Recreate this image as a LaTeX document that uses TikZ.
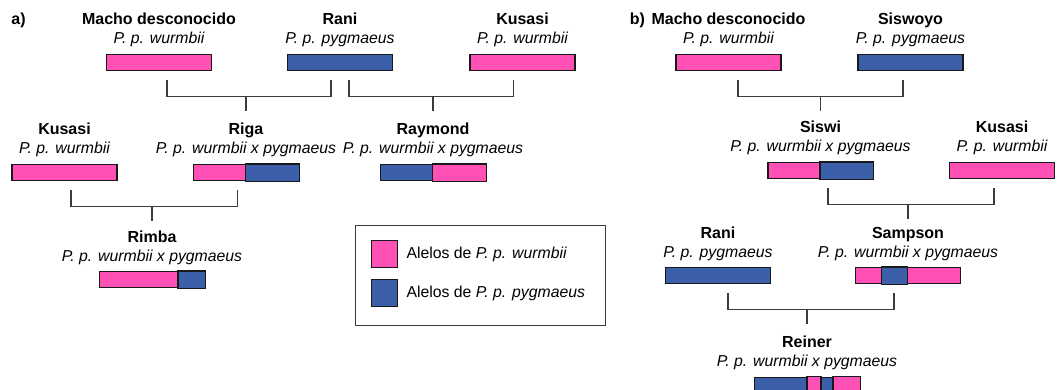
\documentclass[tikz,border=0pt]{standalone}
\usepackage{fontspec}
\setmainfont{Liberation Sans}
\usetikzlibrary{positioning, calc}
\definecolor{WurmPink}{RGB}{255, 80, 181}
\definecolor{PygBlue}{RGB}{60, 95, 170}
\definecolor{LineGray}{RGB}{60, 60, 60}

\begin{document}
\begin{tikzpicture}[
    x=1pt, y=-1pt,
    every node/.style={font=\fontsize{15.8}{18}\selectfont, inner sep=0pt},
    who/.style={font=\fontsize{16}{18}\selectfont\bfseries, anchor=base, text height=11pt},
    taxon/.style={font=\fontsize{15.8}{18}\selectfont\itshape, anchor=base},
    bar/.style={draw=black!90, line width=1.3pt, minimum width=105pt, minimum height=16pt, anchor=north},
    wurm/.style={bar, fill=WurmPink},
    pyg/.style={bar, fill=PygBlue},
    seg/.style={draw=black!90, line width=1.3pt},
    key/.style={draw=black!90, line width=1.3pt, minimum width=26pt, minimum height=27pt, anchor=north west},
    link/.style={draw=LineGray, line width=1.3pt}
]
\useasboundingbox (0,0) rectangle (1062,390);

\node[who] (labelA) at (18.5,25) {a)};
\node[who] (labelB) at (637.5,25) {b)};

\node[who] (machoA) at (159,25) {Macho desconocido};
\node[taxon] (machoA-tx) at (159,44) {P. p. wurmbii};
\node[wurm] (machoA-bar) at (159,54) {};
\node[who] (raniA) at (340,25) {Rani};
\node[taxon] (raniA-tx) at (340,44) {P. p. pygmaeus};
\node[pyg] (raniA-bar) at (340,54) {};
\node[who] (kusasiA) at (522.5,25) {Kusasi};
\node[taxon] (kusasiA-tx) at (522.5,44) {P. p. wurmbii};
\node[wurm] (kusasiA-bar) at (522.5,54) {};

\node[who] (kusasiA2) at (64.5,135) {Kusasi};
\node[taxon] (kusasiA2-tx) at (64.5,154) {P. p. wurmbii};
\node[wurm] (kusasiA2-bar) at (64.5,164) {};
\node[who] (riga) at (246,135) {Riga};
\node[taxon] (riga-tx) at (246,154) {P. p. wurmbii x pygmaeus};
\node[wurm] (riga-bar) at (246,164) {};
\draw[seg, fill=PygBlue] ([xshift=52.5pt]riga-bar.south west) rectangle (riga-bar.north east);
\node[who] (raymond) at (433,135) {Raymond};
\node[taxon] (raymond-tx) at (433,154) {P. p. wurmbii x pygmaeus};
\node[pyg] (raymond-bar) at (433,164) {};
\draw[seg, fill=WurmPink] ([xshift=52.5pt]raymond-bar.south west) rectangle (raymond-bar.north east);

\node[who] (rimba) at (152,242) {Rimba};
\node[taxon] (rimba-tx) at (152,261) {P. p. wurmbii x pygmaeus};
\node[wurm] (rimba-bar) at (152,271) {};
\draw[seg, fill=PygBlue] ([xshift=79pt]rimba-bar.south west) rectangle (rimba-bar.north east);

\draw[link] ([xshift=8pt,yshift=-9pt]machoA-bar.south) -- ++(0,16) coordinate (jA1) -| ([xshift=-9pt,yshift=-9pt]raniA-bar.south);
\draw[link] (riga.north |- jA1) -- ++(0,15);
\draw[link] ([xshift=9pt,yshift=-9pt]raniA-bar.south) -- ++(0,16) coordinate (jA2) -| ([xshift=-9pt,yshift=-9pt]kusasiA-bar.south);
\draw[link] (raymond.north |- jA2) -- ++(0,15);
\draw[link] ([xshift=6.5pt,yshift=-9pt]kusasiA2-bar.south) -- ++(0,16) coordinate (jA3) -| ([xshift=-8.5pt,yshift=-9pt]riga-bar.south);
\draw[link] (rimba.north |- jA3) -- ++(0,15);

\node[draw=LineGray, line width=1.3pt, minimum width=250pt, minimum height=100pt, anchor=north west] (legend) at (355,225) {};
\node[key, fill=WurmPink] (keyW) at (371,240) {};
\node[anchor=west] (keyW-txt) at ([xshift=8pt]keyW.east) {Alelos de \textit{P. p. wurmbii}};
\node[key, fill=PygBlue] (keyP) at (371,279) {};
\node[anchor=west] (keyP-txt) at ([xshift=8pt]keyP.east) {Alelos de \textit{P. p. pygmaeus}};

\node[who] (machoB) at (728.5,25) {Macho desconocido};
\node[taxon] (machoB-tx) at (728.5,44) {P. p. wurmbii};
\node[wurm] (machoB-bar) at (728.5,54) {};
\node[who] (siswoyo) at (910.5,25) {Siswoyo};
\node[taxon] (siswoyo-tx) at (910.5,44) {P. p. pygmaeus};
\node[pyg] (siswoyo-bar) at (910.5,54) {};

\node[who] (siswi) at (820.5,133) {Siswi};
\node[taxon] (siswi-tx) at (820.5,152) {P. p. wurmbii x pygmaeus};
\node[wurm] (siswi-bar) at (820.5,162) {};
\draw[seg, fill=PygBlue] ([xshift=52.5pt]siswi-bar.south west) rectangle (siswi-bar.north east);
\node[who] (kusasiB) at (1002,133) {Kusasi};
\node[taxon] (kusasiB-tx) at (1002,152) {P. p. wurmbii};
\node[wurm] (kusasiB-bar) at (1002,162) {};

\node[who] (raniB) at (718,238) {Rani};
\node[taxon] (raniB-tx) at (718,257) {P. p. pygmaeus};
\node[pyg] (raniB-bar) at (718,267) {};
\node[who] (sampson) at (908,238) {Sampson};
\node[taxon] (sampson-tx) at (908,257) {P. p. wurmbii x pygmaeus};
\node[wurm] (sampson-bar) at (908,267) {};
\draw[seg, fill=PygBlue] ([xshift=26.5pt]sampson-bar.south west) rectangle ([xshift=52.5pt]sampson-bar.north west);

\node[who] (reiner) at (807,347) {Reiner};
\node[taxon] (reiner-tx) at (807,366) {P. p. wurmbii x pygmaeus};
\node[pyg] (reiner-bar) at (807,376.5) {};
\draw[seg, fill=WurmPink] ([xshift=53pt]reiner-bar.south west) rectangle ([xshift=67pt]reiner-bar.north west);
\draw[seg, fill=WurmPink] ([xshift=79pt]reiner-bar.south west) rectangle (reiner-bar.north east);

\draw[link] ([xshift=9.5pt,yshift=-9pt]machoB-bar.south) -- ++(0,16) coordinate (jB1) -| ([xshift=-7.5pt,yshift=-9pt]siswoyo-bar.south);
\draw[link] (siswi.north |- jB1) -- ++(0,15);
\draw[link] ([xshift=7.5pt,yshift=-9pt]siswi-bar.south) -- ++(0,16) coordinate (jB2) -| ([xshift=-8pt,yshift=-9pt]kusasiB-bar.south);
\draw[link] (sampson.north |- jB2) -- ++(0,15);
\draw[link] ([xshift=10pt,yshift=-9pt]raniB-bar.south) -- ++(0,16) coordinate (jB3) -| ([xshift=-14pt,yshift=-9pt]sampson-bar.south);
\draw[link] (reiner.north |- jB3) -- ++(0,15);
\end{tikzpicture}
\end{document}
